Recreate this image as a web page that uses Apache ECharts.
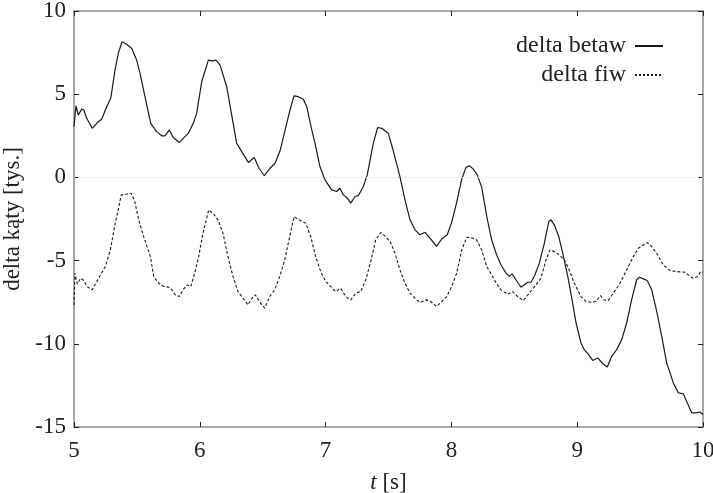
<!DOCTYPE html>
<html>
<head>
<meta charset="utf-8">
<script src="https://cdn.jsdelivr.net/npm/echarts@6/dist/echarts.min.js"></script>
<style>
html,body{margin:0;padding:0;background:#fff;}
#chart{width:713px;height:493px;}
</style>
</head>
<body>
<div id="chart"></div>
<script>
// ---- data (time in s, value in thousands) ----
const tBeta = [5.000,5.016,5.034,5.061,5.079,5.101,5.145,5.193,5.220,5.260,5.292,5.326,5.352,5.382,5.419,5.459,5.498,5.525,5.564,5.610,5.657,5.697,5.723,5.758,5.789,5.837,5.882,5.909,5.948,5.975,6.015,6.068,6.103,6.129,6.161,6.214,6.293,6.333,6.386,6.433,6.471,6.513,6.558,6.598,6.638,6.691,6.717,6.749,6.783,6.823,6.850,6.890,6.916,6.955,6.995,7.048,7.088,7.114,7.141,7.173,7.200,7.234,7.260,7.300,7.331,7.379,7.414,7.446,7.498,7.538,7.591,7.631,7.671,7.711,7.750,7.790,7.830,7.882,7.923,7.967,8.002,8.042,8.082,8.116,8.144,8.174,8.206,8.241,8.281,8.320,8.359,8.394,8.434,8.460,8.482,8.513,8.553,8.580,8.607,8.633,8.662,8.699,8.739,8.774,8.792,8.818,8.853,8.885,8.925,8.959,8.991,9.030,9.056,9.091,9.123,9.163,9.205,9.239,9.274,9.314,9.354,9.393,9.433,9.473,9.494,9.526,9.557,9.592,9.632,9.672,9.711,9.738,9.764,9.804,9.843,9.875,9.910,9.944,9.976,10.000];
const vBeta = [3.05,4.3,3.75,4.1,4.05,3.55,2.95,3.35,3.5,4.25,4.75,6.45,7.45,8.15,8.0,7.75,7.05,6.25,4.85,3.25,2.75,2.5,2.5,2.85,2.4,2.1,2.45,2.65,3.25,3.85,5.75,7.05,7.0,7.05,6.75,5.45,2.05,1.55,0.9,1.2,0.55,0.1,0.55,0.85,1.6,3.25,4.05,4.9,4.85,4.7,4.25,2.85,2.05,0.65,-0.15,-0.75,-0.85,-0.65,-1.05,-1.25,-1.55,-1.15,-1.1,-0.55,0.15,2.05,3.0,2.95,2.65,1.6,0.05,-1.35,-2.55,-3.15,-3.45,-3.3,-3.65,-4.15,-3.7,-3.45,-2.7,-1.5,-0.1,0.6,0.7,0.5,0.15,-0.6,-2.35,-3.75,-4.65,-5.25,-5.75,-5.95,-5.8,-6.15,-6.6,-6.45,-6.3,-6.3,-5.9,-5.15,-3.95,-2.65,-2.55,-2.85,-3.55,-4.55,-5.95,-7.35,-8.75,-9.95,-10.35,-10.65,-11.0,-10.85,-11.2,-11.4,-10.75,-10.35,-9.75,-8.75,-7.35,-6.15,-6.0,-6.1,-6.2,-6.75,-8.05,-9.55,-11.15,-11.75,-12.35,-12.95,-13.0,-13.55,-14.15,-14.15,-14.1,-14.25];

const tFi = [5.000,5.008,5.026,5.053,5.079,5.103,5.143,5.196,5.249,5.289,5.328,5.376,5.421,5.455,5.483,5.514,5.554,5.607,5.634,5.673,5.713,5.753,5.779,5.805,5.837,5.866,5.901,5.928,5.959,5.991,6.025,6.071,6.105,6.145,6.184,6.224,6.264,6.304,6.343,6.383,6.415,6.441,6.484,6.516,6.556,6.595,6.635,6.675,6.709,6.749,6.789,6.842,6.882,6.921,6.961,7.001,7.041,7.080,7.120,7.160,7.200,7.239,7.279,7.319,7.359,7.398,7.438,7.478,7.516,7.552,7.591,7.631,7.671,7.711,7.750,7.798,7.835,7.883,7.923,7.963,8.002,8.042,8.082,8.122,8.161,8.201,8.241,8.281,8.320,8.357,8.394,8.447,8.487,8.527,8.572,8.619,8.672,8.712,8.752,8.784,8.818,8.858,8.898,8.937,8.977,9.030,9.070,9.110,9.149,9.185,9.213,9.247,9.287,9.340,9.393,9.446,9.486,9.526,9.557,9.592,9.632,9.684,9.738,9.791,9.857,9.883,9.921,9.955,9.982,10.000];
const vFi = [-7.66,-5.76,-6.4,-6.06,-6.2,-6.56,-6.76,-6.06,-5.36,-4.36,-2.75,-1.05,-1.0,-0.95,-1.45,-2.55,-3.56,-4.76,-5.96,-6.36,-6.56,-6.6,-6.76,-7.06,-7.16,-6.76,-6.46,-6.56,-5.76,-4.76,-3.35,-1.95,-2.15,-2.55,-3.35,-4.76,-5.96,-6.86,-7.26,-7.66,-7.26,-7.06,-7.56,-7.86,-7.16,-6.76,-5.96,-4.96,-3.76,-2.36,-2.55,-2.75,-3.56,-4.76,-5.66,-6.26,-6.56,-6.86,-6.66,-7.16,-7.36,-6.96,-6.86,-6.16,-5.06,-3.76,-3.31,-3.56,-3.9,-4.56,-5.56,-6.36,-6.96,-7.26,-7.52,-7.36,-7.46,-7.76,-7.46,-7.16,-6.56,-5.76,-4.36,-3.6,-3.62,-3.76,-4.36,-5.36,-5.86,-6.36,-6.76,-7.02,-6.86,-7.16,-7.4,-6.96,-6.46,-6.06,-4.96,-4.36,-4.46,-4.66,-4.96,-5.56,-6.36,-7.16,-7.46,-7.5,-7.46,-7.1,-7.36,-7.4,-6.96,-6.36,-5.56,-4.76,-4.26,-4.06,-3.92,-4.16,-4.56,-5.26,-5.6,-5.66,-5.7,-5.86,-6.06,-5.96,-5.66,-5.7];

const seriesNames = ['delta betaw', 'delta fiw'];
const xTitle = '{i|t} [s]';
const yTitle = 'delta kąty [tys.]';

// ---- chart ----
const FONT = 'Liberation Serif';
const FS = 23;
const chart = echarts.init(document.getElementById('chart'), null, {renderer: 'canvas'});
const frame = {show: true, onZero: false, lineStyle: {color: '#8a8a8a', width: 1.5}};
const tickIn = {show: true, inside: true, length: 5, lineStyle: {color: '#222', width: 1}};
const zip = (a, b) => a.map((t, i) => [t, b[i]]);
const legText = {fontFamily: FONT, fontSize: 24, color: '#222', padding: [0, 4, 0, 0]};

chart.setOption({
  backgroundColor: '#fff',
  animation: false,
  textStyle: {fontFamily: FONT},
  grid: {left: 74, right: 10, top: 11, bottom: 66, containLabel: false, outerBoundsMode: 'none'},
  legend: [
    {data: [seriesNames[0]], right: 44, top: 29, align: 'right', itemWidth: 28, itemHeight: 10,
     itemGap: 6, itemStyle: {opacity: 0}, textStyle: legText},
    {data: [seriesNames[1]], right: 44, top: 58, align: 'right', itemWidth: 28, itemHeight: 10,
     itemGap: 6, itemStyle: {opacity: 0}, lineStyle: {type: [2, 2]}, textStyle: legText}
  ],
  xAxis: [
    {type: 'value', min: 5, max: 10, interval: 1, position: 'bottom',
     axisLine: frame, axisTick: tickIn, splitLine: {show: false},
     axisLabel: {fontFamily: FONT, fontSize: FS, color: '#222', margin: 12},
     name: xTitle, nameLocation: 'middle', nameGap: 44,
     nameTextStyle: {fontFamily: FONT, fontSize: FS, color: '#222',
       rich: {i: {fontStyle: 'italic', fontFamily: FONT, fontSize: FS, color: '#222'}}}},
    {type: 'value', min: 5, max: 10, interval: 1, position: 'top',
     axisLine: frame, axisTick: tickIn, axisLabel: {show: false}, splitLine: {show: false}}
  ],
  yAxis: [
    {type: 'value', min: -15, max: 10, interval: 5, position: 'left',
     axisLine: frame, axisTick: tickIn, splitLine: {show: false},
     axisLabel: {fontFamily: FONT, fontSize: FS, color: '#222', margin: 8},
     name: yTitle, nameLocation: 'middle', nameGap: 50, nameRotate: 90,
     nameTextStyle: {fontFamily: FONT, fontSize: FS, color: '#222'}},
    {type: 'value', min: -15, max: 10, interval: 5, position: 'right',
     axisLine: frame, axisTick: tickIn, axisLabel: {show: false}, splitLine: {show: false}}
  ],
  series: [
    {name: seriesNames[0], type: 'line', data: zip(tBeta, vBeta), symbol: 'none', smooth: false,
     lineStyle: {color: '#1a1a1a', width: 1.2, type: 'solid'}, itemStyle: {color: '#1a1a1a'},
     markLine: {silent: true, symbol: 'none', label: {show: false},
       lineStyle: {color: '#cfcfcf', type: [1, 3], width: 1}, data: [{yAxis: 0}]}},
    {name: seriesNames[1], type: 'line', data: zip(tFi, vFi), symbol: 'none', smooth: false,
     lineStyle: {color: '#1a1a1a', width: 1.1, type: [3, 2]}, itemStyle: {color: '#1a1a1a'}}
  ]
});
</script>
</body>
</html>
